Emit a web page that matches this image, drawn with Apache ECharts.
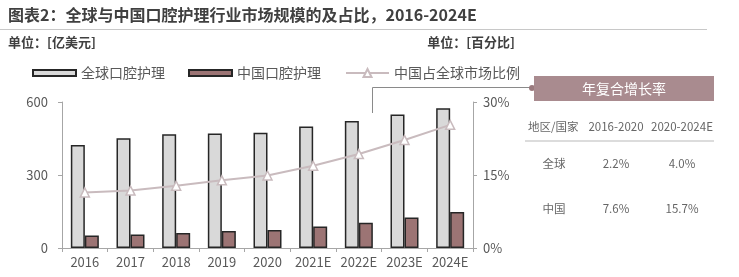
<!DOCTYPE html>
<html><head><meta charset="utf-8">
<script src="https://cdn.jsdelivr.net/npm/echarts@6/dist/echarts.min.js"></script>
<style>html,body{margin:0;padding:0;background:#fff}#c{width:739px;height:277px}</style>
</head><body><div id="c"></div>
<script>
const categories = ['2016','2017','2018','2019','2020','2021E','2022E','2023E','2024E'];
const globalSize = [423, 451, 467, 471, 474, 499, 522, 549, 574];
const chinaSize = [51, 55, 62, 70, 74, 88, 104, 125, 148];
const chinaShare = [11.4, 11.8, 12.8, 13.9, 14.9, 16.9, 19.3, 22.2, 25.3];
const leftTicks = [0, 300, 600];
const rightTicks = [0, 15, 30];
const seriesNames = ['全球口腔护理', '中国口腔护理', '中国占全球市场比例'];
const tableHeader = ['地区/国家', '2016-2020', '2020-2024E'];
const tableRows = [['全球', '2.2%', '4.0%'], ['中国', '7.6%', '15.7%']];

const FONT = '"Noto Sans CJK SC", "Noto Sans", sans-serif';
const chart = echarts.init(document.getElementById('c'), null, {renderer: 'canvas'});

const graphics = [
  {type:'text', left:8, top:7, style:{text:'图表2：全球与中国口腔护理行业市场规模的及占比，2016-2024E', font:'bold 16px '+FONT, fill:'#404040'}},
  {type:'line', shape:{x1:0, y1:29.5, x2:707, y2:29.5}, style:{stroke:'#c8c8c8', lineWidth:1}},
  {type:'text', left:8, top:36, style:{text:'单位：[亿美元]', font:'bold 13px '+FONT, fill:'#404040'}},
  {type:'text', right:224, top:36, style:{text:'单位：[百分比]', font:'bold 13px '+FONT, fill:'#404040'}},
  {type:'polyline', shape:{points:[[372.5,113],[372.5,87.5],[532,87.5]]}, style:{stroke:'#8a8a8a', lineWidth:1, fill:null}},
  {type:'circle', shape:{cx:532, cy:88, r:3}, style:{fill:'#9a7a7e'}},
  {type:'rect', shape:{x:534, y:76, width:180, height:25}, style:{fill:'#a98b8f'}},
  {type:'text', x:624, y:88.5, style:{text:'年复合增长率', font:'14px '+FONT, fill:'#ffffff', align:'center', verticalAlign:'middle'}},
  {type:'line', shape:{x1:525, y1:141, x2:714, y2:141}, style:{stroke:'#dcdcdc', lineWidth:2}}
];
const colX = [554, 616, 682];
tableHeader.forEach((t, i) => {
  graphics.push({type:'text', x: i===0 ? 528 : colX[i], y:127, style:{text:t, font:'11.5px '+FONT, fill:'#666', align: i===0 ? 'left' : 'center', verticalAlign:'middle'}});
});
tableRows.forEach((row, r) => {
  row.forEach((t, i) => {
    graphics.push({type:'text', x:colX[i], y: r===0 ? 164 : 209, style:{text:t, font:'11.5px '+FONT, fill:'#666', align:'center', verticalAlign:'middle'}});
  });
});

const legendText = {fontFamily: FONT, fontSize: 14, color: '#595959'};
const option = {
  animation: false,
  textStyle: {fontFamily: FONT},
  graphic: graphics,
  legend: [
    {data:[{name:seriesNames[0], icon:'rect'}], left:27, top:61, itemWidth:43, itemHeight:6, textStyle:legendText, selectedMode:false},
    {data:[{name:seriesNames[1], icon:'rect'}], left:183, top:61, itemWidth:43, itemHeight:6, textStyle:legendText, selectedMode:false},
    {data:[seriesNames[2]], left:340, top:61, itemWidth:43, itemHeight:10, textStyle:legendText, selectedMode:false}
  ],
  grid: {left:62, right:266, top:102, bottom:29, containLabel:false},
  xAxis: {
    type:'category', data: categories,
    axisLine:{lineStyle:{color:'#a6a6a6'}},
    axisTick:{show:true, length:4, lineStyle:{color:'#a6a6a6'}},
    axisLabel:{color:'#595959', fontSize:13, margin:8, fontFamily:FONT, interval:0}
  },
  yAxis: [
    {type:'value', min:0, max:600, interval:300,
     axisLine:{show:true, lineStyle:{color:'#a6a6a6'}},
     axisTick:{show:true, length:4, lineStyle:{color:'#a6a6a6'}},
     splitLine:{show:false},
     axisLabel:{color:'#595959', fontSize:13, margin:14, fontFamily:FONT,
       formatter: v => leftTicks.includes(v) ? String(v) : ''}},
    {type:'value', min:0, max:30, interval:15, position:'right',
     axisLine:{show:true, lineStyle:{color:'#a6a6a6'}},
     axisTick:{show:true, length:4, lineStyle:{color:'#a6a6a6'}},
     splitLine:{show:false},
     axisLabel:{color:'#595959', fontSize:13, margin:10, fontFamily:FONT,
       formatter: v => rightTicks.includes(v) ? v + '%' : ''}}
  ],
  series: [
    {name:seriesNames[0], type:'bar', data: globalSize, barWidth:14, barGap:'0%',
     itemStyle:{color:'#d9d9d9', borderColor:'#262626', borderWidth:1.5}},
    {name:seriesNames[1], type:'bar', data: chinaSize, barWidth:14,
     itemStyle:{color:'#9c7474', borderColor:'#262626', borderWidth:1.5}},
    {name:seriesNames[2], type:'line', yAxisIndex:1, data: chinaShare,
     symbol:'triangle', symbolSize:9, showSymbol:true,
     lineStyle:{color:'#c9bbbe', width:2},
     itemStyle:{color:'#ffffff', borderColor:'#c9bbbe', borderWidth:1.5}, z:5}
  ]
};
chart.setOption(option);
</script></body></html>
